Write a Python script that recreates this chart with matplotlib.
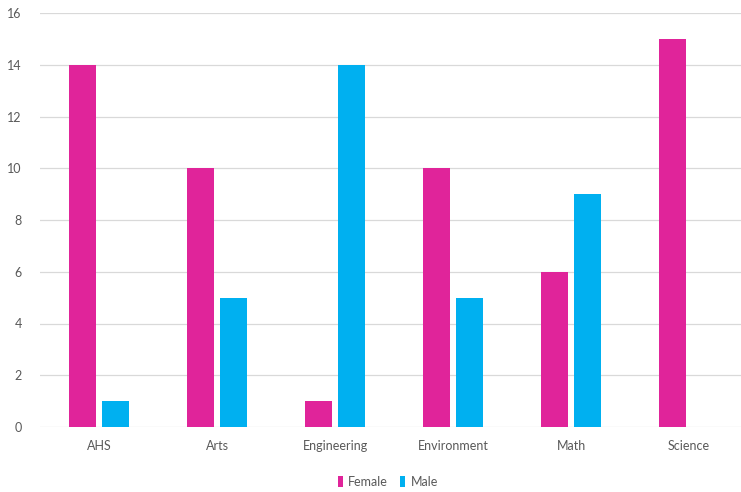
import matplotlib
matplotlib.use("Agg")
import matplotlib.pyplot as plt
import numpy as np

categories = ["AHS", "Arts", "Engineering", "Environment", "Math", "Science"]
female = [14, 10, 1, 10, 6, 15]
male = [1, 5, 14, 5, 9, 0]

female_color = "#E0249A"
male_color = "#00B0F0"
text_color = "#595959"

plt.rcParams["font.family"] = ["Lato", "DejaVu Sans"]

W, H = 741, 492
fig = plt.figure(figsize=(W / 100, H / 100), dpi=100)
# axes spans pixel x 40..748, y 13..427
ax = fig.add_axes([40 / W, (H - 427) / H, 708 / W, (427 - 13) / H])

x = np.arange(len(categories))
bw = 0.229
off = 0.14
ax.bar(x - off, female, width=bw, color=female_color, label="Female", zorder=3)
ax.bar(x + off, male, width=bw, color=male_color, label="Male", zorder=3)

ax.set_xlim(-0.5, len(categories) - 0.5)
ax.set_ylim(0, 16)
ax.set_yticks(range(0, 17, 2))
ax.set_xticks(x)
ax.set_xticklabels(categories)
ax.tick_params(axis="both", length=0, colors=text_color, labelsize=9)
ax.tick_params(axis="x", pad=9)
ax.tick_params(axis="y", pad=13)
ax.grid(axis="y", color="#D9D9D9", linewidth=0.9, zorder=0)
for s in ax.spines.values():
    s.set_visible(False)

leg = fig.legend(loc="center", bbox_to_anchor=(388 / W, (H - 482) / H), ncol=2,
                 frameon=False, fontsize=9, handlelength=0.4, handleheight=1.0,
                 handletextpad=0.4, columnspacing=1.0)
for t in leg.get_texts():
    t.set_color(text_color)

fig.savefig("out.png", dpi=100)
